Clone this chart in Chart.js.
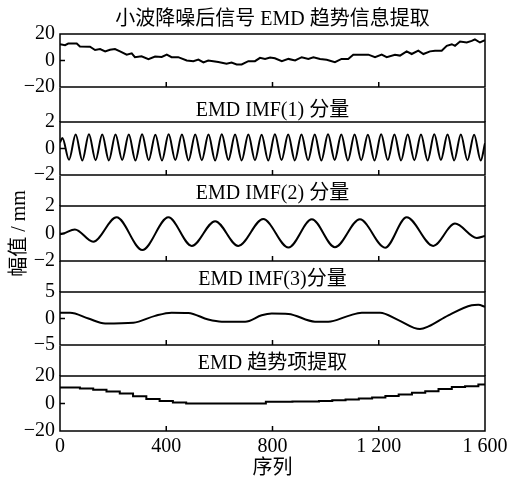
<!DOCTYPE html>
<html>
<head>
<meta charset="utf-8">
<script src="https://cdn.jsdelivr.net/npm/chart.js"></script>
<style>
  html, body { margin: 0; padding: 0; background: #fff; overflow: hidden; }
  #wrap { position: relative; width: 520px; height: 477px; }
  #wrap canvas { position: absolute; left: 0; }
</style>
</head>
<body>
<div id="wrap"></div>
<script>
// x axis
const xTicks = [0, 400, 800, 1200, 1600];
const xTickLabels = ['0', '400', '800', '1 200', '1 600'];
const innerXTicks = [400, 800, 1200];

// 小波降噪后信号
const sigX = [0, 19, 31, 63, 75, 113, 132, 151, 170, 188, 207, 226, 251, 270, 282, 307, 333, 358, 383, 402,
  420, 445, 477, 502, 521, 540, 558, 577, 596, 627, 646, 665, 684, 709, 734, 753, 772, 791, 809, 835,
  860, 885, 910, 935, 954, 979, 1004, 1035, 1060, 1085, 1104, 1129, 1161, 1186, 1211, 1230, 1261, 1280, 1305, 1324,
  1349, 1368, 1393, 1412, 1437, 1456, 1475, 1487, 1506, 1531, 1550, 1562, 1581, 1600];
const sigY = [12.3, 11.6, 12.8, 12.8, 10.6, 10.4, 7.9, 8.6, 6.9, 8.1, 8.6, 6.9, 4.4, 5.4, 2.5, 3.2, 1.0, 3.0, 2.7, 4.4,
  2.5, 2.5, 0, -0.5, 0.7, -1.5, 0, -0.5, -1.2, -2.5, -1.5, -3.0, -3.0, -0.5, -0.5, 2.0, 1.2, 2.2, 1.7, -0.5,
  1.2, 0, 2.5, 1.2, 2.5, 1.2, 0.5, -1.2, 1.2, 1.2, 4.4, 4.4, 4.4, 2.5, 4.4, 2.5, 4.4, 3.7, 6.9, 4.9,
  7.4, 4.9, 6.9, 7.4, 7.4, 11.1, 12.3, 11.1, 14.3, 13.6, 14.8, 16.0, 13.6, 15.3];

// IMF(1): extrema
const imf1X = [0, 9, 34, 59, 84, 109, 134, 159, 184, 209,
  234, 259, 284, 309, 334, 359, 384, 409, 434, 459,
  484, 509, 534, 559, 584, 609, 634, 659, 684, 709,
  734, 759, 784, 809, 834, 859, 884, 909, 934, 959,
  984, 1009, 1034, 1059, 1084, 1109, 1134, 1159, 1184, 1209,
  1234, 1259, 1284, 1309, 1334, 1359, 1384, 1409, 1434, 1459,
  1484, 1509, 1534, 1559, 1584, 1600];
const imf1Y = [0.45, 0.8, -0.85, 1.05, -0.9, 1.08, -0.88, 1.05, -0.9, 1.06,
  -0.86, 1.05, -0.9, 1.08, -0.88, 1.04, -0.9, 1.07, -0.87, 1.05,
  -0.9, 1.06, -0.88, 1.05, -0.9, 1.08, -0.86, 1.05, -0.9, 1.06,
  -0.88, 1.04, -0.9, 1.08, -0.87, 1.05, -0.9, 1.06, -0.88, 1.05,
  -0.9, 1.08, -0.86, 1.05, -0.9, 1.06, -0.88, 1.04, -0.9, 1.07,
  -0.87, 1.05, -0.9, 1.06, -0.88, 1.05, -0.9, 1.08, -0.86, 1.05,
  -0.9, 1.06, -0.88, 1.04, -0.9, 0.4];

// IMF(2)
const imf2X = [0, 13, 56, 125, 213, 310, 408, 496, 584, 671, 765, 860, 948, 1035, 1129, 1224, 1305, 1405, 1487, 1569, 1600];
const imf2Y = [-0.05, 0.0, 0.3, -0.6, 1.18, -1.2, 1.18, -0.9, 0.9, -0.9, 1.05, -1.02, 1.03, -1.0, 1.03, -1.03, 1.18, -0.9, 0.72, -0.32, -0.18];

// IMF(3)
const imf3X = [0, 38, 107, 170, 276, 358, 420, 483, 558, 609, 697, 759, 797, 860, 960, 1010, 1086, 1136, 1205, 1274, 1355, 1387, 1462, 1550, 1575, 1600];
const imf3Y = [1.1, 1.1, 0, -0.93, -0.8, 0.5, 1.1, 1.05, -0.2, -0.6, -0.6, 0.6, 0.93, 0.86, -0.6, -0.6, 0.5, 1.1, 1.1, -0.3, -2.0, -1.5, 0.6, 2.5, 2.6, 2.2];

// 趋势项
const trendX = [0, 50, 100, 150, 200, 250, 300, 350, 400, 450, 500, 550, 600, 650, 700, 750, 800,
  850, 900, 950, 1000, 1050, 1100, 1150, 1200, 1250, 1300, 1350, 1400, 1450, 1500, 1550, 1600];
const trendY = [11.6, 11.6, 10.9, 10.0, 8.8, 7.2, 5.3, 3.2, 1.8, 0.7, 0, 0, 0, 0, 0, 0, 1.2,
  1.2, 1.5, 1.5, 1.9, 2.4, 3.0, 3.6, 4.4, 5.4, 6.5, 7.8, 9.0, 10.5, 12.0, 12.5, 13.8];

const FONT = "'Liberation Serif', 'Noto Sans CJK SC', serif";

const panels = [
  { title: '小波降噪后信号 EMD 趋势信息提取', xs: sigX, ys: sigY, yTicks: [-20, 0, 20],
    canvasTop: 0, titleCenter: 20, plotTop: 34, plotBottom: 88 },
  { title: 'EMD IMF(1) 分量', xs: imf1X, ys: imf1Y, yTicks: [-2, 0, 2], smooth: true,
    canvasTop: 86, titleCenter: 111, plotTop: 122, plotBottom: 176 },
  { title: 'EMD IMF(2) 分量', xs: imf2X, ys: imf2Y, yTicks: [-2, 0, 2], smooth: true, yTitle: true,
    canvasTop: 174, titleCenter: 194, plotTop: 206, plotBottom: 261 },
  { title: 'EMD IMF(3)分量', xs: imf3X, ys: imf3Y, yTicks: [-5, 0, 5], smooth: true,
    canvasTop: 259, titleCenter: 280, plotTop: 292, plotBottom: 346 },
  { title: 'EMD 趋势项提取', xs: trendX, ys: trendY, yTicks: [-20, 0, 20], stepped: 'middle', last: true,
    canvasTop: 344, titleCenter: 364, plotTop: 376, plotBottom: 431 }
];

const framePlugin = {
  id: 'frame',
  afterDraw(chart, args, opts) {
    const { ctx, chartArea: a, scales } = chart;
    ctx.save();
    ctx.strokeStyle = '#000';
    ctx.lineWidth = 1.5;
    ctx.strokeRect(a.left, a.top, a.right - a.left, a.bottom - a.top);
    ctx.beginPath();
    if (opts.band) {
      ctx.moveTo(a.left, a.top - opts.band); ctx.lineTo(a.left, a.top);
      ctx.moveTo(a.right, a.top - opts.band); ctx.lineTo(a.right, a.top);
    }
    innerXTicks.forEach(v => {
      const x = scales.x.getPixelForValue(v);
      ctx.moveTo(x, a.bottom); ctx.lineTo(x, a.bottom - 5);
    });
    const y0 = scales.y.getPixelForValue(0);
    ctx.moveTo(a.left, y0); ctx.lineTo(a.left + 5, y0);
    ctx.stroke();
    ctx.restore();
  }
};

const wrap = document.getElementById('wrap');
const font = { family: FONT, size: 20, weight: 'normal', lineHeight: 1 };

panels.forEach((p, i) => {
  const canvas = document.createElement('canvas');
  const bottomPad = p.yTitle ? 26 : 14;
  const h = p.last ? 479 - p.canvasTop : p.plotBottom + bottomPad - p.canvasTop;
  canvas.width = 520;
  canvas.height = h;
  canvas.style.top = p.canvasTop + 'px';
  wrap.appendChild(canvas);

  const band = i > 0 ? p.plotTop - panels[i - 1].plotBottom : 0;

  new Chart(canvas.getContext('2d'), {
    type: 'line',
    data: {
      datasets: [{
        data: p.xs.map((x, k) => ({ x: x, y: p.ys[k] })),
        borderColor: '#000',
        borderWidth: 2,
        pointRadius: 0,
        fill: false,
        tension: 0,
        cubicInterpolationMode: p.smooth ? 'monotone' : 'default',
        stepped: p.stepped || false
      }]
    },
    options: {
      responsive: false,
      animation: false,
      events: [],
      layout: { padding: { top: 0, left: 0, right: 35, bottom: p.last ? 0 : bottomPad } },
      plugins: {
        legend: { display: false },
        tooltip: { enabled: false },
        title: {
          display: true,
          text: p.title,
          color: '#000',
          fullSize: false,
          font: font,
          padding: { top: p.titleCenter - 10 - p.canvasTop, bottom: p.plotTop - p.titleCenter - 10 }
        },
        frame: { band: band }
      },
      scales: {
        x: {
          type: 'linear',
          min: 0,
          max: 1600,
          display: !!p.last,
          grid: { display: false, drawTicks: false },
          border: { display: false },
          afterBuildTicks: s => { s.ticks = xTicks.map(v => ({ value: v })); },
          ticks: {
            color: '#000', font: font, padding: 6, maxRotation: 0, autoSkip: false,
            callback: (v, k) => xTickLabels[k]
          },
          title: { display: true, text: '序列', color: '#000', font: font, padding: { top: -4, bottom: 0 } }
        },
        y: {
          type: 'linear',
          min: p.yTicks[0],
          max: p.yTicks[p.yTicks.length - 1],
          grid: { display: false, drawTicks: false },
          border: { display: false },
          afterBuildTicks: s => { s.ticks = p.yTicks.map(v => ({ value: v })); },
          afterFit: s => { s.width = 60; },
          ticks: {
            color: '#000', font: font, padding: 5, autoSkip: false,
            callback: v => String(v).replace('-', '\u2212')
          },
          title: { display: !!p.yTitle, text: '幅值 / mm', color: '#000', font: font, padding: { top: 10, bottom: 0 } }
        }
      }
    },
    plugins: [framePlugin]
  });
});
</script>
</body>
</html>
